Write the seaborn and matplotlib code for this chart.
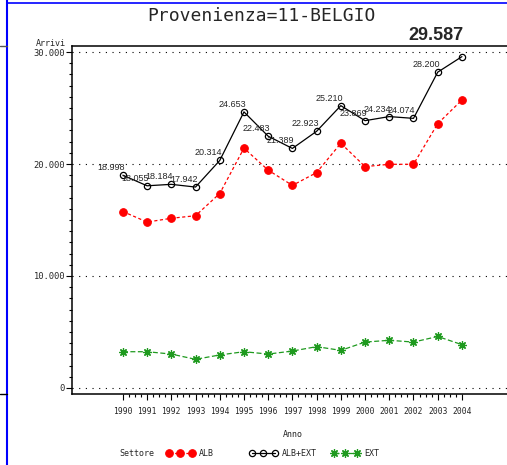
import pandas as pd
import seaborn as sns
import matplotlib.pyplot as plt
from matplotlib.lines import Line2D
from matplotlib.ticker import FixedLocator, FuncFormatter

# Data
years = list(range(1990, 2005))
alb_ext = [18998, 18055, 18184, 17942, 20314, 24653, 22483, 21389,
           22923, 25210, 23869, 24234, 24074, 28200, 29587]
ext = [3240, 3240, 3030, 2560, 2950, 3240, 3030, 3300,
       3690, 3360, 4100, 4260, 4100, 4600, 3870]
alb = [t - e for t, e in zip(alb_ext, ext)]
y_ticks = [0, 10000, 20000, 30000]

sns.set_style("white")
plt.rcParams['font.family'] = ['DejaVu Sans Mono']

W, H = 507, 465
fig = plt.figure(figsize=(W / 100, H / 100), dpi=100)
ax = fig.add_axes([72 / W, 1 - 394 / H, 442 / W, 348 / H])

df = pd.DataFrame({'Anno': years, 'ALB': alb, 'ALB+EXT': alb_ext, 'EXT': ext})

sns.lineplot(data=df, x='Anno', y='ALB', ax=ax, color='#ff0000', lw=0.9,
             linestyle=(0, (2.5, 2)), marker='o', markersize=5.5,
             markeredgecolor='#ff0000', label='ALB')
sns.lineplot(data=df, x='Anno', y='ALB+EXT', ax=ax, color='black', lw=0.9,
             marker='o', markersize=4.5, markerfacecolor='none',
             markeredgecolor='black', markeredgewidth=0.9, label='ALB+EXT')
sns.lineplot(data=df, x='Anno', y='EXT', ax=ax, color='#1f9a1f', lw=0.9,
             linestyle=(0, (4, 2)), marker=(8, 2, 0), markersize=6,
             markeredgecolor='#1f9a1f', markeredgewidth=0.9, label='EXT')

# value labels on the total line
for x, v in zip(years[:-1], alb_ext[:-1]):
    ax.annotate(f"{v / 1000:.3f}", (x, v), xytext=(2, 3),
                textcoords='offset pixels', ha='right', va='bottom',
                fontsize=6.5, family='Liberation Sans')
ax.annotate(f"{alb_ext[-1] / 1000:.3f}", (years[-1], alb_ext[-1]),
            xytext=(2, 13), textcoords='offset pixels', ha='right',
            va='bottom', fontsize=13, fontweight='bold',
            family='Liberation Sans', annotation_clip=False)

for yv in y_ticks:
    ax.axhline(yv, color='black', lw=0.8, linestyle=(0, (1, 5)), zorder=0)

ax.set_xlim(1987.9, 2006.15)
ax.set_ylim(-536, 30536)
ax.xaxis.set_major_locator(FixedLocator(years))
ax.xaxis.set_minor_locator(FixedLocator([1990 + i * 0.25 for i in range(57)]))
ax.yaxis.set_major_locator(FixedLocator(y_ticks))
ax.yaxis.set_minor_locator(FixedLocator(range(0, 30001, 1000)))
ax.yaxis.set_major_formatter(FuncFormatter(lambda v, p: f"{int(v):,}".replace(',', '.')))
ax.tick_params(axis='both', which='both', bottom=True, left=True, top=False, right=False)
ax.tick_params(axis='both', which='major', direction='out', length=4, width=0.8,
               color='black', pad=2)
ax.tick_params(axis='both', which='minor', direction='out', length=2.5, width=0.8,
               color='black')
ax.tick_params(axis='x', which='major', labelsize=5.8, pad=5.5)
ax.tick_params(axis='y', which='major', labelsize=6.3, pad=1)

for s in ['left', 'bottom', 'top']:
    ax.spines[s].set_color('black')
    ax.spines[s].set_linewidth(1.1)
ax.spines['right'].set_visible(False)

ax.set_xlabel('Anno', fontsize=6, labelpad=10)
ax.set_ylabel('')
ax.get_legend().remove()

fig.text(51 / W, 1 - 44 / H, 'Arrivi', fontsize=6, ha='center', va='center')
fig.text(261 / W, 1 - 16 / H, 'Provenienza=11-BELGIO', fontsize=13,
         ha='center', va='center')

# legend row: SAS places each entry at its own slot
fig.text(137 / W, 1 - 453 / H, 'Settore', fontsize=6, ha='center', va='center')
lines = ax.get_lines()[:3]
for h, lab, x0 in zip(lines, ['ALB', 'ALB+EXT', 'EXT'], [166, 249, 331]):
    fig.legend([h], [lab], loc='center left', bbox_to_anchor=(x0 / W, 1 - 453 / H),
               numpoints=3, frameon=False, fontsize=6, handlelength=3.4,
               handletextpad=0.6, borderpad=0, borderaxespad=0)

# page frame artifacts
fig.add_artist(Line2D([7 / W, 7 / W], [0, 1], color='blue', lw=1.5))
fig.add_artist(Line2D([7 / W, 1], [1 - 3 / H, 1 - 3 / H], color='blue', lw=1.2))
fig.add_artist(Line2D([0, 7 / W], [1 - 46 / H, 1 - 46 / H], color='#555555', lw=1))
fig.add_artist(Line2D([0, 7 / W], [1 - 394 / H, 1 - 394 / H], color='black', lw=1))

fig.savefig('out.png', dpi=100)
